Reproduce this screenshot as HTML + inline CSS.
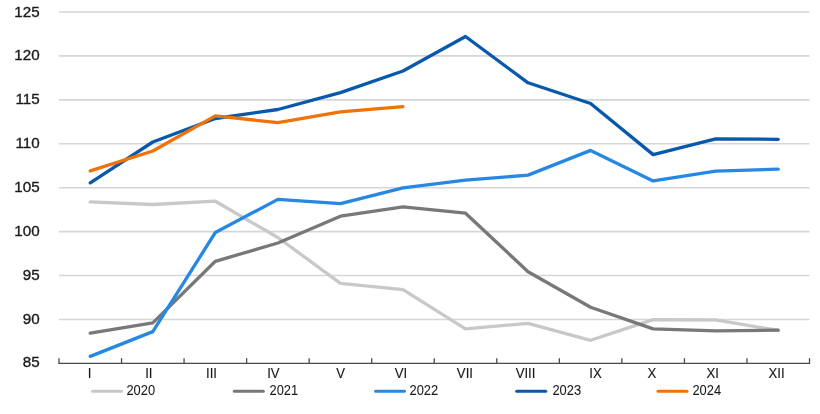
<!DOCTYPE html>
<html><head><meta charset="utf-8"><style>
html,body{margin:0;padding:0;background:#fff;width:820px;height:414px;overflow:hidden;font-family:"Liberation Sans",sans-serif;}
svg{display:block;will-change:transform}
</style></head><body>
<svg width="820" height="414" viewBox="0 0 820 414"><rect width="820" height="414" fill="#ffffff"/><line x1="59.0" y1="12.00" x2="809.5" y2="12.00" stroke="#d6d6d6" stroke-width="1.6"/><line x1="59.0" y1="55.92" x2="809.5" y2="55.92" stroke="#d6d6d6" stroke-width="1.6"/><line x1="59.0" y1="99.85" x2="809.5" y2="99.85" stroke="#d6d6d6" stroke-width="1.6"/><line x1="59.0" y1="143.77" x2="809.5" y2="143.77" stroke="#d6d6d6" stroke-width="1.6"/><line x1="59.0" y1="187.70" x2="809.5" y2="187.70" stroke="#d6d6d6" stroke-width="1.6"/><line x1="59.0" y1="231.62" x2="809.5" y2="231.62" stroke="#d6d6d6" stroke-width="1.6"/><line x1="59.0" y1="275.55" x2="809.5" y2="275.55" stroke="#d6d6d6" stroke-width="1.6"/><line x1="59.0" y1="319.47" x2="809.5" y2="319.47" stroke="#d6d6d6" stroke-width="1.6"/><line x1="58.4" y1="363.4" x2="810.1" y2="363.4" stroke="#4a4a4a" stroke-width="1.3"/><line x1="59.00" y1="358.20" x2="59.00" y2="363.40" stroke="#4a4a4a" stroke-width="1.3"/><line x1="121.54" y1="358.20" x2="121.54" y2="363.40" stroke="#4a4a4a" stroke-width="1.3"/><line x1="184.08" y1="358.20" x2="184.08" y2="363.40" stroke="#4a4a4a" stroke-width="1.3"/><line x1="246.62" y1="358.20" x2="246.62" y2="363.40" stroke="#4a4a4a" stroke-width="1.3"/><line x1="309.17" y1="358.20" x2="309.17" y2="363.40" stroke="#4a4a4a" stroke-width="1.3"/><line x1="371.71" y1="358.20" x2="371.71" y2="363.40" stroke="#4a4a4a" stroke-width="1.3"/><line x1="434.25" y1="358.20" x2="434.25" y2="363.40" stroke="#4a4a4a" stroke-width="1.3"/><line x1="496.79" y1="358.20" x2="496.79" y2="363.40" stroke="#4a4a4a" stroke-width="1.3"/><line x1="559.33" y1="358.20" x2="559.33" y2="363.40" stroke="#4a4a4a" stroke-width="1.3"/><line x1="621.88" y1="358.20" x2="621.88" y2="363.40" stroke="#4a4a4a" stroke-width="1.3"/><line x1="684.42" y1="358.20" x2="684.42" y2="363.40" stroke="#4a4a4a" stroke-width="1.3"/><line x1="746.96" y1="358.20" x2="746.96" y2="363.40" stroke="#4a4a4a" stroke-width="1.3"/><line x1="809.50" y1="358.20" x2="809.50" y2="363.40" stroke="#4a4a4a" stroke-width="1.3"/><text transform="translate(39.6,16.50) scale(0.98,1)" text-anchor="end" font-family="Liberation Sans, sans-serif" font-size="15.5" fill="#1a1a1a" stroke="#1a1a1a" stroke-width="0.35">125</text><text transform="translate(39.6,60.37) scale(0.98,1)" text-anchor="end" font-family="Liberation Sans, sans-serif" font-size="15.5" fill="#1a1a1a" stroke="#1a1a1a" stroke-width="0.35">120</text><text transform="translate(39.6,104.24) scale(0.98,1)" text-anchor="end" font-family="Liberation Sans, sans-serif" font-size="15.5" fill="#1a1a1a" stroke="#1a1a1a" stroke-width="0.35">115</text><text transform="translate(39.6,148.11) scale(0.98,1)" text-anchor="end" font-family="Liberation Sans, sans-serif" font-size="15.5" fill="#1a1a1a" stroke="#1a1a1a" stroke-width="0.35">110</text><text transform="translate(39.6,191.98) scale(0.98,1)" text-anchor="end" font-family="Liberation Sans, sans-serif" font-size="15.5" fill="#1a1a1a" stroke="#1a1a1a" stroke-width="0.35">105</text><text transform="translate(39.6,235.85) scale(0.98,1)" text-anchor="end" font-family="Liberation Sans, sans-serif" font-size="15.5" fill="#1a1a1a" stroke="#1a1a1a" stroke-width="0.35">100</text><text transform="translate(39.6,279.72) scale(0.98,1)" text-anchor="end" font-family="Liberation Sans, sans-serif" font-size="15.5" fill="#1a1a1a" stroke="#1a1a1a" stroke-width="0.35">95</text><text transform="translate(39.6,323.59) scale(0.98,1)" text-anchor="end" font-family="Liberation Sans, sans-serif" font-size="15.5" fill="#1a1a1a" stroke="#1a1a1a" stroke-width="0.35">90</text><text transform="translate(39.6,367.46) scale(0.98,1)" text-anchor="end" font-family="Liberation Sans, sans-serif" font-size="15.5" fill="#1a1a1a" stroke="#1a1a1a" stroke-width="0.35">85</text><text transform="translate(89.60,377.8) scale(0.94,1)" text-anchor="middle" font-family="Liberation Sans, sans-serif" font-size="14.0" fill="#1a1a1a" stroke="#1a1a1a" stroke-width="0.15">I</text><text transform="translate(148.80,377.8) scale(0.94,1)" text-anchor="middle" font-family="Liberation Sans, sans-serif" font-size="14.0" fill="#1a1a1a" stroke="#1a1a1a" stroke-width="0.15">II</text><text transform="translate(211.50,377.8) scale(0.94,1)" text-anchor="middle" font-family="Liberation Sans, sans-serif" font-size="14.0" fill="#1a1a1a" stroke="#1a1a1a" stroke-width="0.15">III</text><text transform="translate(273.35,377.8) scale(0.94,1)" text-anchor="middle" font-family="Liberation Sans, sans-serif" font-size="14.0" fill="#1a1a1a" stroke="#1a1a1a" stroke-width="0.15">IV</text><text transform="translate(340.70,377.8) scale(0.94,1)" text-anchor="middle" font-family="Liberation Sans, sans-serif" font-size="14.0" fill="#1a1a1a" stroke="#1a1a1a" stroke-width="0.15">V</text><text transform="translate(401.00,377.8) scale(0.94,1)" text-anchor="middle" font-family="Liberation Sans, sans-serif" font-size="14.0" fill="#1a1a1a" stroke="#1a1a1a" stroke-width="0.15">VI</text><text transform="translate(464.90,377.8) scale(0.94,1)" text-anchor="middle" font-family="Liberation Sans, sans-serif" font-size="14.0" fill="#1a1a1a" stroke="#1a1a1a" stroke-width="0.15">VII</text><text transform="translate(525.50,377.8) scale(0.94,1)" text-anchor="middle" font-family="Liberation Sans, sans-serif" font-size="14.0" fill="#1a1a1a" stroke="#1a1a1a" stroke-width="0.15">VIII</text><text transform="translate(595.50,377.8) scale(0.94,1)" text-anchor="middle" font-family="Liberation Sans, sans-serif" font-size="14.0" fill="#1a1a1a" stroke="#1a1a1a" stroke-width="0.15">IX</text><text transform="translate(652.00,377.8) scale(0.94,1)" text-anchor="middle" font-family="Liberation Sans, sans-serif" font-size="14.0" fill="#1a1a1a" stroke="#1a1a1a" stroke-width="0.15">X</text><text transform="translate(712.60,377.8) scale(0.94,1)" text-anchor="middle" font-family="Liberation Sans, sans-serif" font-size="14.0" fill="#1a1a1a" stroke="#1a1a1a" stroke-width="0.15">XI</text><text transform="translate(776.60,377.8) scale(0.94,1)" text-anchor="middle" font-family="Liberation Sans, sans-serif" font-size="14.0" fill="#1a1a1a" stroke="#1a1a1a" stroke-width="0.15">XII</text><polyline points="90.27,201.90 152.81,204.50 215.35,201.20 277.90,237.50 340.44,283.30 402.98,289.60 465.52,328.80 528.06,323.30 590.60,340.30 653.15,319.60 715.69,319.90 778.23,330.50" fill="none" stroke="#c8c8c8" stroke-width="3.3" stroke-linejoin="round" stroke-linecap="round"/><polyline points="90.27,333.20 152.81,322.90 215.35,261.30 277.90,243.00 340.44,216.20 402.98,206.90 465.52,213.20 528.06,271.70 590.60,307.20 653.15,328.90 715.69,330.90 778.23,330.20" fill="none" stroke="#787878" stroke-width="3.3" stroke-linejoin="round" stroke-linecap="round"/><polyline points="90.27,356.40 152.81,331.60 215.35,232.50 277.90,199.40 340.44,203.60 402.98,187.90 465.52,180.20 528.06,175.10 590.60,150.40 653.15,180.90 715.69,171.10 778.23,169.20" fill="none" stroke="#2688e2" stroke-width="3.3" stroke-linejoin="round" stroke-linecap="round"/><polyline points="90.27,182.80 152.81,142.00 215.35,118.50 277.90,109.50 340.44,92.60 402.98,71.00 465.52,36.50 528.06,82.80 590.60,103.50 653.15,154.60 715.69,138.80 778.23,139.30" fill="none" stroke="#0858ab" stroke-width="3.3" stroke-linejoin="round" stroke-linecap="round"/><polyline points="90.27,170.90 152.81,151.00 215.35,115.90 277.90,122.60 340.44,111.90 402.98,106.70" fill="none" stroke="#f07208" stroke-width="3.3" stroke-linejoin="round" stroke-linecap="round"/><line x1="92.50" y1="391.2" x2="121.50" y2="391.2" stroke="#c8c8c8" stroke-width="3" stroke-linecap="round"/><text transform="translate(126.40,395.0) scale(0.935,1)" font-family="Liberation Sans, sans-serif" font-size="13.8" fill="#1a1a1a" stroke="#1a1a1a" stroke-width="0.05">2020</text><line x1="234.30" y1="391.2" x2="263.30" y2="391.2" stroke="#787878" stroke-width="3" stroke-linecap="round"/><text transform="translate(269.50,395.0) scale(0.935,1)" font-family="Liberation Sans, sans-serif" font-size="13.8" fill="#1a1a1a" stroke="#1a1a1a" stroke-width="0.05">2021</text><line x1="375.50" y1="391.2" x2="404.50" y2="391.2" stroke="#2688e2" stroke-width="3" stroke-linecap="round"/><text transform="translate(409.50,395.0) scale(0.935,1)" font-family="Liberation Sans, sans-serif" font-size="13.8" fill="#1a1a1a" stroke="#1a1a1a" stroke-width="0.05">2022</text><line x1="516.70" y1="391.2" x2="545.70" y2="391.2" stroke="#0858ab" stroke-width="3" stroke-linecap="round"/><text transform="translate(552.40,395.0) scale(0.935,1)" font-family="Liberation Sans, sans-serif" font-size="13.8" fill="#1a1a1a" stroke="#1a1a1a" stroke-width="0.05">2023</text><line x1="658.00" y1="391.2" x2="687.00" y2="391.2" stroke="#f07208" stroke-width="3" stroke-linecap="round"/><text transform="translate(692.40,395.0) scale(0.935,1)" font-family="Liberation Sans, sans-serif" font-size="13.8" fill="#1a1a1a" stroke="#1a1a1a" stroke-width="0.05">2024</text></svg>
</body></html>
